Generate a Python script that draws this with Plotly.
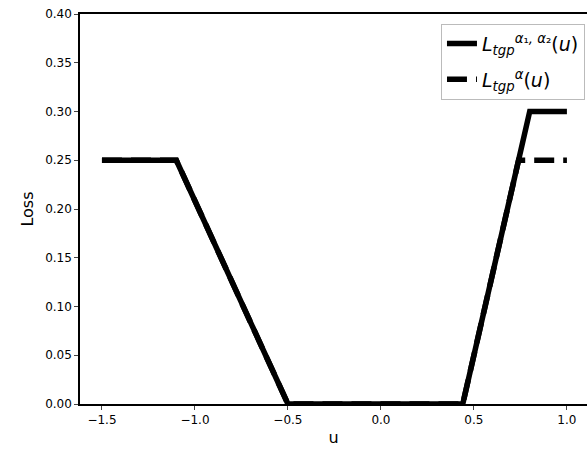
import plotly.graph_objects as go

# Data
u_a12 = [-1.5, -1.1, -0.5, 0.44, 0.80, 1.0]
loss_a12 = [0.25, 0.25, 0.0, 0.0, 0.30, 0.30]
u_a = [-1.5, -1.1, -0.5, 0.44, 0.74, 1.0]
loss_a = [0.25, 0.25, 0.0, 0.0, 0.25, 0.25]
name_a12 = "<i>L</i><sub><i>tgp</i></sub><sup><i>α</i>₁<i>, α</i>₂</sup>(<i>u</i>)"
name_a = "<i>L</i><sub><i>tgp</i></sub><sup><i>α</i></sup>(<i>u</i>)"

fig = go.Figure()
fig.add_trace(go.Scatter(x=u_a, y=loss_a, mode="lines", name=name_a,
                         legendgroup="b", legendrank=2,
                         line=dict(color="black", width=5.5, dash="20px,9px")))
fig.add_trace(go.Scatter(x=u_a12, y=loss_a12, mode="lines", name=name_a12,
                         legendgroup="a", legendrank=1,
                         line=dict(color="black", width=5.5)))

fig.update_layout(
    width=587, height=455,
    margin=dict(l=80, r=0, t=14, b=51),
    paper_bgcolor="white", plot_bgcolor="white",
    font=dict(family="DejaVu Sans", size=12, color="black"),
    showlegend=True,
    legend=dict(x=0.996, y=0.975, xanchor="right", yanchor="top",
                traceorder="grouped", tracegroupgap=8,
                bgcolor="rgba(255,255,255,0.8)", bordercolor="#bbbbbb", borderwidth=1,
                font=dict(size=19, family="DejaVu Sans")),
    xaxis=dict(range=[-1.618, 1.108], tickvals=[-1.5, -1.0, -0.5, 0.0, 0.5, 1.0],
               tickformat=".1f", ticks="outside", ticklen=4, tickwidth=1,
               showline=True, linecolor="black", linewidth=1.5, mirror=True,
               showgrid=False, zeroline=False,
               title=dict(text="u", font=dict(size=16), standoff=6)),
    yaxis=dict(range=[0, 0.40], dtick=0.05, tick0=0, tickformat=".2f",
               ticks="outside", ticklen=4, tickwidth=1,
               showline=True, linecolor="black", linewidth=1.5,
               showgrid=False, zeroline=False,
               title=dict(text="Loss", font=dict(size=16), standoff=8)),
)

fig.write_html("out.html")
